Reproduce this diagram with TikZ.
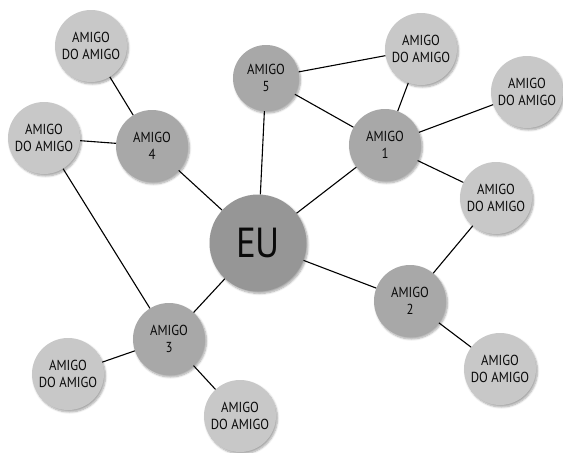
\documentclass[tikz,border=0pt]{standalone}
\usepackage{fontspec}
\setmainfont{PT Sans}
\newfontfamily\condfont[FakeStretch=0.88]{PT Sans}
\usetikzlibrary{shadows.blur}
\definecolor{lightc}{RGB}{200,200,200}
\definecolor{midc}{RGB}{168,168,168}
\definecolor{euc}{RGB}{150,150,150}
\definecolor{txt}{RGB}{10,10,10}
\tikzset{
  base/.style={circle, inner sep=0pt, text=txt, align=center,
     blur shadow={shadow xshift=1.5pt, shadow yshift=-2pt, shadow blur steps=6, shadow opacity=35}},
  doa/.style={base, fill=lightc, minimum size=72pt, font=\condfont\fontsize{14.5}{17}\selectfont},
  ami/.style={base, fill=midc, minimum size=72pt, font=\condfont\fontsize{14.5}{17}\selectfont},
  eu/.style={base, fill=euc, minimum size=97pt, font=\condfont\fontsize{42}{44}\selectfont},
  link/.style={draw=black, line width=1.1pt}
}
\begin{document}
\begin{tikzpicture}[x=1pt,y=-1pt]
\useasboundingbox (0,0) rectangle (563,453);
\node[eu] (eu) at (258,243) {EU};
\node[ami, minimum size=66pt] (a5) at (266,78) {AMIGO\\5};
\node[ami] (a1) at (385,145) {AMIGO\\1};
\node[ami] (a4) at (152,146) {AMIGO\\4};
\node[ami] (a3) at (169,339) {AMIGO\\3};
\node[ami] (a2) at (410,301) {AMIGO\\2};
\node[doa] (d1) at (91,46) {AMIGO\\DO AMIGO};
\node[doa] (d2) at (44,138) {AMIGO\\DO AMIGO};
\node[doa] (d3) at (421,49) {AMIGO\\DO AMIGO};
\node[doa] (d4) at (527,92) {AMIGO\\DO AMIGO};
\node[doa] (d5) at (496,198) {AMIGO\\DO AMIGO};
\node[doa] (d6) at (68,374) {AMIGO\\DO AMIGO};
\node[doa] (d7) at (240,416) {AMIGO\\DO AMIGO};
\node[doa] (d8) at (500,369) {AMIGO\\DO AMIGO};
\draw[link] (eu) -- (a5);
\draw[link] (eu) -- (a1);
\draw[link] (eu) -- (a4);
\draw[link] (eu) -- (a3);
\draw[link] (eu) -- (a2);
\draw[link] (a5) -- (d3);
\draw[link] (a5) -- (a1);
\draw[link] (a1) -- (d3);
\draw[link] (a1) -- (d4);
\draw[link] (a1) -- (d5);
\draw[link] (a4) -- (d1);
\draw[link] (a4) -- (d2);
\draw[link] (d2) -- (a3);
\draw[link] (a3) -- (d6);
\draw[link] (a3) -- (d7);
\draw[link] (a2) -- (d5);
\draw[link] (a2) -- (d8);
\end{tikzpicture}
\end{document}
